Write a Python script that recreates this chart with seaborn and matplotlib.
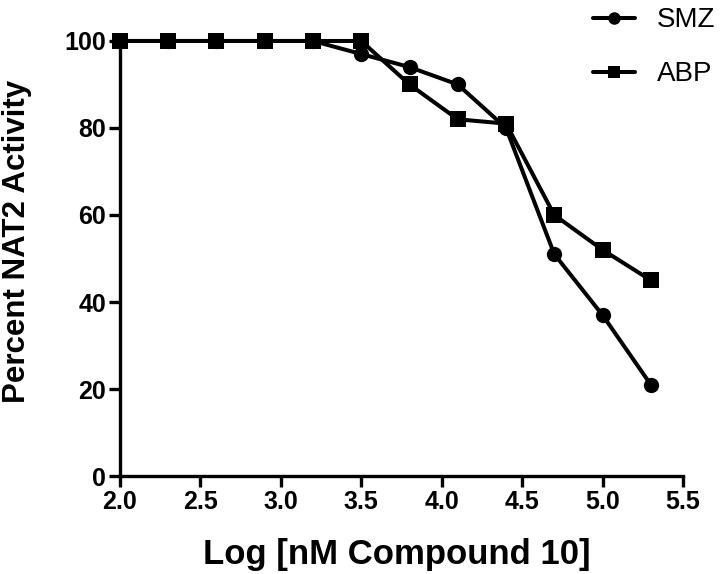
import matplotlib
matplotlib.use('Agg')
import matplotlib.pyplot as plt
import pandas as pd
import seaborn as sns

# log concentration of compound 10 (nM)
log_conc = [2.0, 2.3, 2.6, 2.9, 3.2, 3.5, 3.8, 4.1, 4.4, 4.7, 5.0, 5.3]
smz = [100, 100, 100, 100, 100, 97, 94, 90, 80, 51, 37, 21]
abp = [100, 100, 100, 100, 100, 100, 90, 82, 81, 60, 52, 45]

df = pd.concat([
    pd.DataFrame({'log_conc': log_conc, 'activity': smz, 'substrate': 'SMZ'}),
    pd.DataFrame({'log_conc': log_conc, 'activity': abp, 'substrate': 'ABP'}),
])

sns.set_style('ticks')
plt.rcParams['font.family'] = ['Liberation Sans', 'DejaVu Sans']
plt.rcParams['text.color'] = 'black'
plt.rcParams['axes.labelcolor'] = 'black'

fig = plt.figure(figsize=(7.25, 5.74), dpi=100)
ax = fig.add_axes([0.1655, 0.1707, 0.7765, 0.7579])

sns.lineplot(data=df, x='log_conc', y='activity', style='substrate',
             markers={'SMZ': 'o', 'ABP': 's'}, dashes=False, color='black',
             linewidth=2.9, markersize=11, markeredgewidth=0, ax=ax,
             clip_on=False, sort=False)

ax.set_xlim(2.0, 5.5)
ax.set_ylim(0, 100)
ax.set_xticks([2.0, 2.5, 3.0, 3.5, 4.0, 4.5, 5.0, 5.5])
ax.set_xticklabels(['2.0', '2.5', '3.0', '3.5', '4.0', '4.5', '5.0', '5.5'])
ax.set_yticks([0, 20, 40, 60, 80, 100])
sns.despine(ax=ax)
for s in ('left', 'bottom'):
    ax.spines[s].set_linewidth(2.4)
    ax.spines[s].set_color('black')
ax.tick_params(axis='both', direction='out', length=8, width=2.4,
               labelsize=18, colors='black', pad=2)
for lab in ax.get_xticklabels() + ax.get_yticklabels():
    lab.set_fontweight('bold')

ax.set_xlabel('Log [nM Compound 10]', fontsize=25, fontweight='bold')
ax.set_ylabel('Percent NAT2 Activity', fontsize=22.5, fontweight='bold')
ax.xaxis.set_label_coords(0.492, -0.142)
ax.yaxis.set_label_coords(-0.157, 0.54)

leg = ax.legend(title=None, loc='upper left', bbox_to_anchor=(0.818, 0.987),
                bbox_transform=fig.transFigure, frameon=False, fontsize=20,
                handlelength=1.5, labelspacing=1.0, handletextpad=0.8,
                borderpad=0, borderaxespad=0)
for line in leg.get_lines():
    line.set_linewidth(2.9)
    line.set_markersize(9)

fig.savefig('out.png', dpi=100)
